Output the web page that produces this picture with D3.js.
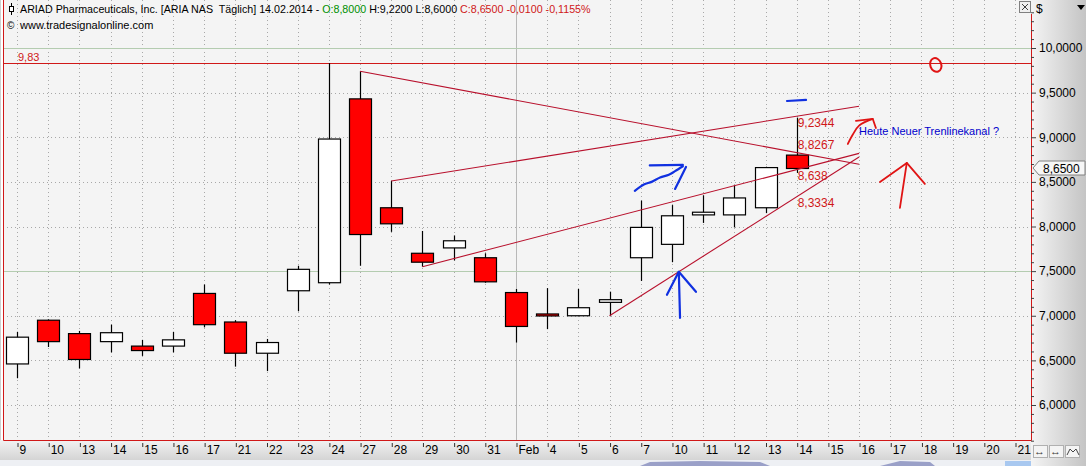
<!DOCTYPE html>
<html><head><meta charset="utf-8">
<script src="https://cdn.jsdelivr.net/npm/d3@7"></script>
<style>
html,body{margin:0;padding:0;background:#fff;overflow:hidden;}
svg{display:block;font-family:"Liberation Sans",Arial,sans-serif;}
</style></head><body>
<svg id="c" width="1086" height="466"></svg>
<script>
// ---- data ----
const dateLabels = ["9","10","13","14","15","16","17","21","22","23","24","27","28","29","30","31","Feb","4","5","6","7","10","11","12","13","14","15","16","17","18","19","20","21"];
const openVals  = [6.46,6.95,6.80,6.71,6.66,6.66,7.25,6.93,6.58,7.28,7.37,9.43,8.21,7.70,7.76,7.65,7.26,7.02,7.00,7.15,7.65,7.80,8.13,8.13,8.21,8.80];
const highVals  = [6.82,6.96,6.83,6.90,6.73,6.82,7.35,6.95,6.74,7.56,9.83,9.74,8.51,7.95,7.90,7.70,7.30,7.31,7.30,7.27,8.29,8.24,8.35,8.46,8.67,9.22];
const lowVals   = [6.30,6.65,6.41,6.59,6.55,6.59,6.87,6.43,6.38,7.05,7.35,7.56,7.94,7.55,7.62,7.37,6.70,6.85,7.00,7.00,7.39,7.60,8.04,7.99,8.15,8.60];
const closeVals = [6.76,6.71,6.51,6.81,6.61,6.73,6.90,6.58,6.70,7.52,8.98,7.91,8.03,7.60,7.84,7.38,6.88,7.00,7.09,7.18,7.99,8.12,8.16,8.32,8.66,8.65];
const yTickValues = [6,6.5,7,7.5,8,8.5,9,9.5,10];
const resistanceLevel = 9.83;
// trend lines (start index/value -> end index/value)
const lineStartIdx = [11,12,13,19];
const lineStartVal = [9.74,8.51,7.55,7.00];
const lineEndIdx   = [27,27,27,27];
const lineEndVal   = [8.6977,9.3473,8.8193,8.7778];
const lineLabelVals = [9.2344,8.8267,8.638,8.3334];
const lineLabelText = ["9,2344","8,8267","8,638","8,3334"];
const labelIdx = 25;
// hand-drawn annotations, in (index, price) space
const blueDash   = [[24.69,9.406],[25.30,9.418]];
const blueCurve  = [[19.81,8.40],[20.1,8.47],[20.35,8.50],[20.62,8.55],[20.9,8.58],[21.1,8.62],[21.35,8.675]];
const blueCurveH1= [[20.29,8.685],[21.35,8.69]];
const blueCurveH2= [[21.45,8.667],[21.10,8.421]];
const blueUpStem = [[21.26,6.976],[21.22,7.492]];
const blueUpHead = [[20.84,7.234],[21.22,7.492],[21.77,7.268]];
const redCircle  = [29.46,9.81];
const redSmall   = [[26.64,8.925],[26.80,9.03],[27.0,9.13],[27.44,9.205]];
const redSmallH  = [[26.90,9.183],[27.44,9.205],[27.54,9.104]];
const redBigStem = [[28.31,8.208],[28.53,8.712]];
const redBigHead = [[27.67,8.499],[28.53,8.712],[29.11,8.477]];
const noteText = "Heute Neuer Trenlinekanal ?";
const notePos = [27.0, 9.03];

// ---- layout ----
const W=1086,H=466, PL=3, PR=1031, PT=0, PB=440;
const svg = d3.select("#c");
const x = d3.scaleLinear().domain([0,32]).range([17,1015]);
const y = d3.scaleLinear().domain([6,10]).range([405,48]);
const de = d3.formatLocale({decimal:",",thousands:".",grouping:[3],currency:["","$"]});
const f4 = de.format(".4f");

const defs = svg.append("defs");
const g1 = defs.append("linearGradient").attr("id","gr").attr("x1",0).attr("x2",1).attr("y1",0).attr("y2",0);
g1.append("stop").attr("offset","0%").attr("stop-color","#f4f4f4");
g1.append("stop").attr("offset","100%").attr("stop-color","#c4c4c4");
const g2 = defs.append("linearGradient").attr("id","gb").attr("x1",0).attr("x2",0).attr("y1",0).attr("y2",1);
g2.append("stop").attr("offset","0%").attr("stop-color","#f2f2f2");
g2.append("stop").attr("offset","100%").attr("stop-color","#d4d4d4");
defs.append("clipPath").attr("id","pc").append("rect").attr("x",PL).attr("y",PT).attr("width",PR-PL).attr("height",PB-PT);

svg.append("rect").attr("width",W).attr("height",H).attr("fill","#ffffff");
svg.append("rect").attr("x",PL).attr("y",PT).attr("width",PR-PL).attr("height",PB-PT).attr("fill","#f4f4f4");
svg.append("rect").attr("x",PR).attr("y",0).attr("width",W-PR).attr("height",H).attr("fill","url(#gr)");
svg.append("rect").attr("x",0).attr("y",PB).attr("width",PR).attr("height",20).attr("fill","url(#gb)");
svg.append("rect").attr("x",0).attr("y",460).attr("width",PR).attr("height",6).attr("fill","#eef0f4");

const plot = svg.append("g").attr("clip-path","url(#pc)");
// vertical grid
plot.selectAll("line.vg").data(d3.range(33)).join("line")
  .attr("x1",i=>Math.round(x(i))+0.5).attr("x2",i=>Math.round(x(i))+0.5)
  .attr("y1",PT).attr("y2",PB)
  .attr("stroke",i=>dateLabels[i]==="Feb"?"#b8b8b8":"#a8a8a8")
  .attr("stroke-dasharray",i=>dateLabels[i]==="Feb"?null:"1,3");
// horizontal grid
plot.selectAll("line.hg").data(yTickValues).join("line")
  .attr("x1",PL).attr("x2",PR)
  .attr("y1",d=>Math.round(y(d))+0.5).attr("y2",d=>Math.round(y(d))+0.5)
  .attr("stroke",d=>(d===7.5||d===10)?"#b4ccb0":"#a8a8a8")
  .attr("stroke-dasharray",d=>(d===7.5||d===10)?null:"1,3");
// resistance line
plot.append("line").attr("x1",PL).attr("x2",PR)
  .attr("y1",Math.round(y(resistanceLevel))+0.5).attr("y2",Math.round(y(resistanceLevel))+0.5)
  .attr("stroke","#d01818").attr("stroke-width",1.2);
svg.append("text").attr("x",18).attr("y",y(resistanceLevel)-2).text("9,83")
  .attr("font-size",11).attr("fill","#d01818");

// candles
const candles = plot.selectAll("g.c").data(openVals.map((o,i)=>({i,o,h:highVals[i],l:lowVals[i],c:closeVals[i]}))).join("g");
candles.append("line")
  .attr("x1",d=>Math.round(x(d.i))+0.5).attr("x2",d=>Math.round(x(d.i))+0.5)
  .attr("y1",d=>y(d.h)).attr("y2",d=>y(d.l)).attr("stroke","#000").attr("stroke-width",1.2);
candles.append("rect")
  .attr("x",d=>Math.round(x(d.i))-10.5).attr("width",22)
  .attr("y",d=>y(Math.max(d.o,d.c))).attr("height",d=>Math.max(2,y(Math.min(d.o,d.c))-y(Math.max(d.o,d.c))))
  .attr("fill",d=>d.c>=d.o?"#ffffff":"#ff0000").attr("stroke","#000").attr("stroke-width",1.2);

// trend lines
plot.selectAll("line.tl").data(lineStartIdx).join("line")
  .attr("x1",(d,k)=>x(d)).attr("y1",(d,k)=>y(lineStartVal[k]))
  .attr("x2",(d,k)=>x(lineEndIdx[k])).attr("y2",(d,k)=>y(lineEndVal[k]))
  .attr("stroke","#b8102c").attr("stroke-width",1.1);
svg.selectAll("text.tll").data(lineLabelVals).join("text")
  .attr("x",x(labelIdx)+1).attr("y",(d,k)=>y(d)+(k===1?-4:10.5))
  .text((d,k)=>lineLabelText[k]).attr("font-size",12).attr("fill","#d01818");

// annotations
const lnC = d3.line().x(p=>x(p[0])).y(p=>y(p[1])).curve(d3.curveCatmullRom);
const lnL = d3.line().x(p=>x(p[0])).y(p=>y(p[1]));
const blue = "#1030e0", red="#e01414";
[[blueDash,lnL],[blueCurve,lnC],[blueCurveH1,lnL],[blueCurveH2,lnL],[blueUpStem,lnL],[blueUpHead,lnL]].forEach(([p,l])=>{
  plot.append("path").attr("d",l(p)).attr("fill","none").attr("stroke",blue).attr("stroke-width",2.2).attr("stroke-linecap","round").attr("stroke-linejoin","round");
});
[[redSmall,lnC],[redSmallH,lnL],[redBigStem,lnL],[redBigHead,lnL]].forEach(([p,l])=>{
  plot.append("path").attr("d",l(p)).attr("fill","none").attr("stroke",red).attr("stroke-width",1.8).attr("stroke-linecap","round").attr("stroke-linejoin","round");
});
plot.append("ellipse").attr("cx",x(redCircle[0])).attr("cy",y(redCircle[1])).attr("rx",5.5).attr("ry",7)
  .attr("fill","none").attr("stroke",red).attr("stroke-width",2).attr("transform",`rotate(-20 ${x(redCircle[0])} ${y(redCircle[1])})`);
svg.append("text").attr("x",x(notePos[0])).attr("y",y(notePos[1])).text(noteText)
  .attr("font-size",11).attr("fill","#0000cc");

// borders
svg.append("path").attr("d",`M${PL+0.5},0V${PB+0.5}H${PR+0.5}V14`).attr("fill","none").attr("stroke","#d01818").attr("stroke-width",1);
svg.append("line").attr("x1",0.5).attr("x2",0.5).attr("y1",0).attr("y2",PB).attr("stroke","#d0d0d0");

// y axis
const yAx = svg.append("g").attr("transform",`translate(${PR},0)`)
  .call(d3.axisRight(y).tickValues(yTickValues).tickFormat(f4).tickSize(5).tickPadding(3));
yAx.select(".domain").remove();
yAx.selectAll("text").attr("font-size",12).attr("fill","#000").attr("font-family","Liberation Sans, Arial");
yAx.selectAll("line").attr("stroke","#404040");
const yMin = svg.append("g").attr("transform",`translate(${PR},0)`)
  .call(d3.axisRight(y).tickValues(d3.range(56,105).map(v=>v/10).filter(v=>Math.abs(v*2-Math.round(v*2))>1e-6)).tickFormat("").tickSize(3));
yMin.select(".domain").remove();
yMin.selectAll("line").attr("stroke","#404040");

// price marker
const py = Math.round(y(closeVals[closeVals.length-1]));
svg.append("polygon").attr("points",`${PR+2},${py} ${PR+8},${py-7} ${W-1},${py-7} ${W-1},${py+7} ${PR+8},${py+7}`)
  .attr("fill","#f6f6f6").attr("stroke","#808080");
svg.append("text").attr("x",PR+12).attr("y",py+4.5).text(f4(closeVals[closeVals.length-1])).attr("font-size",12).attr("fill","#000");

// x axis
const xAx = svg.append("g").attr("transform",`translate(0,${PB+3})`)
  .call(d3.axisBottom(x).tickValues(d3.range(33)).tickFormat(i=>dateLabels[i]).tickSize(4).tickPadding(0));
xAx.select(".domain").remove();
xAx.selectAll("line").attr("stroke","#303030").attr("transform","translate(0.5,0)");
xAx.selectAll("text").attr("text-anchor","start").attr("x",2).attr("y",2).attr("dy","0.78em")
  .attr("font-size",12).attr("fill","#000").attr("font-family","Liberation Sans, Arial");

// header
const title = svg.append("text").attr("x",20).attr("y",13).attr("font-size",10.7).attr("fill","#000").attr("style","white-space:pre");
title.append("tspan").text("ARIAD Pharmaceuticals, Inc. [ARIA NAS  Täglich] 14.02.2014 - ");
title.append("tspan").text("O:8,8000 ").attr("fill","#009000");
title.append("tspan").text("H:9,2200 L:8,6000 ");
title.append("tspan").text("C:8,6500 -0,0100 -0,1155%").attr("fill","#d01818");
svg.append("line").attr("x1",11.5).attr("x2",11.5).attr("y1",3).attr("y2",15).attr("stroke","#000");
svg.append("rect").attr("x",9.5).attr("y",6.5).attr("width",4).attr("height",5).attr("fill","#fff").attr("stroke","#000");
svg.append("text").attr("x",7).attr("y",29).text("©").attr("font-size",10);
svg.append("text").attr("x",20).attr("y",29).text("www.tradesignalonline.com").attr("font-size",11);
// close box & axis header
svg.append("rect").attr("x",1019.5).attr("y",1.5).attr("width",11).attr("height",11).attr("fill","#f0f0f0").attr("stroke","#808080");
svg.append("path").attr("d","M1022,4L1028,10M1028,4L1022,10").attr("stroke","#404040");
svg.append("text").attr("x",1036).attr("y",13).text("$").attr("font-size",12);
svg.append("path").attr("d","M1077,5H1085L1081,10Z").attr("fill","#000");
// bottom-right icons
[1033,1049,1065].forEach((bx,k)=>{
  svg.append("rect").attr("x",bx+0.5).attr("y",445.5).attr("width",14).attr("height",12).attr("fill","#f4f4f4").attr("stroke","#b0b0b0");
});
svg.append("text").attr("x",1034).attr("y",455).text("↔").attr("font-size",11).attr("fill","#333");
svg.append("text").attr("x",1050).attr("y",455).text("↔").attr("font-size",11).attr("fill","#333");
svg.append("path").attr("d","M1067,455L1070,449L1073,452L1076,449L1079,455").attr("fill","none").attr("stroke","#444");
// navigator hints
svg.append("path").attr("d","M640,466L650,462L700,461L760,462L770,466Z").attr("fill","#9aa0c8");
svg.append("path").attr("d","M880,466L900,461L930,462L935,466Z").attr("fill","#9aa0c8");
svg.append("rect").attr("x",1005).attr("y",461).attr("width",26).attr("height",5).attr("fill","#a8c8f0");
</script>
</body></html>
